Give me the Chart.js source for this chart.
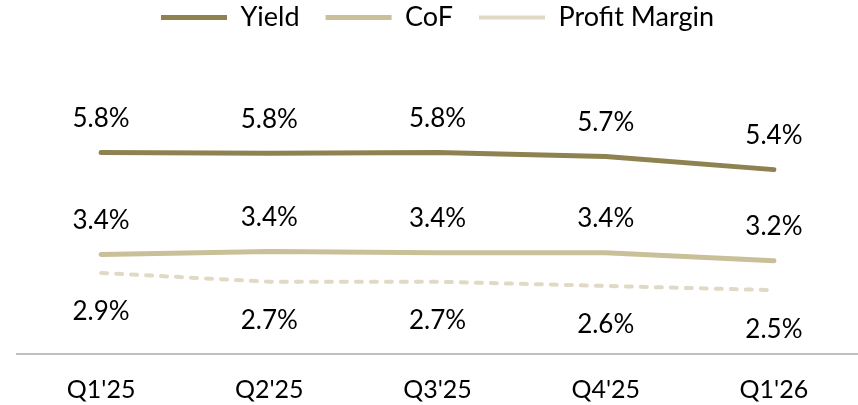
<!DOCTYPE html>
<html>
<head>
<meta charset="utf-8">
<script src="https://cdn.jsdelivr.net/npm/chart.js@4"></script>
<style>
  html, body { margin: 0; padding: 0; background: #fff; }
  #wrap { width: 858px; height: 405px; }
</style>
</head>
<body>
<div id="wrap"><canvas id="myChart"></canvas></div>
<script>
const quarters = ["Q1'25", "Q2'25", "Q3'25", "Q4'25", "Q1'26"];
const yieldVals = [5.80, 5.78, 5.80, 5.70, 5.39];
const cofVals = [3.37, 3.44, 3.41, 3.41, 3.22];
const marginVals = [2.93, 2.72, 2.72, 2.62, 2.52];

const FONT = 'Lato, "Open Sans", sans-serif';

// draws the % labels next to each point
const pointLabels = {
    id: 'pointLabels',
    afterDatasetsDraw(chart) {
        const c = chart.ctx;
        c.save();
        c.font = '26px ' + FONT;
        c.fillStyle = '#000';
        c.textAlign = 'center';
        c.textBaseline = 'middle';
        chart.data.datasets.forEach((ds, i) => {
            const meta = chart.getDatasetMeta(i);
            meta.data.forEach((pt, j) => {
                c.fillText(ds.data[j].toFixed(1) + '%', pt.x, pt.y + ds.labelOffset);
            });
        });
        c.restore();
    }
};

// make room under the legend
const legendSpace = {
    id: 'legendSpace',
    beforeInit(chart) {
        const fit = chart.legend.fit;
        chart.legend.fit = function () {
            fit.bind(chart.legend)();
            this.height = 82;
        };
    }
};

const ctx = document.getElementById('myChart');

new Chart(ctx, {
    type: 'line',
    data: {
        labels: quarters,
        datasets: [{
            label: 'Yield',
            data: yieldVals,
            borderColor: '#8e8250',
            borderWidth: 5,
            borderCapStyle: 'round',
            pointRadius: 0,
            pointStyle: 'line',
            labelOffset: -34
        }, {
            label: 'CoF',
            data: cofVals,
            borderColor: '#c9bf98',
            borderWidth: 5,
            borderCapStyle: 'round',
            pointRadius: 0,
            pointStyle: 'line',
            labelOffset: -34
        }, {
            label: 'Profit Margin',
            data: marginVals,
            borderColor: '#e0dac4',
            borderWidth: 4,
            borderDash: [6, 9],
            borderCapStyle: 'round',
            pointRadius: 0,
            pointStyle: 'line',
            labelOffset: 39
        }]
    },
    options: {
        responsive: true,
        maintainAspectRatio: false,
        animation: false,
        layout: { padding: { left: 17, right: 0, top: -22, bottom: -21 } },
        plugins: {
            legend: {
                position: 'top',
                labels: {
                    usePointStyle: true,
                    pointStyleWidth: 66,
                    boxWidth: 66,
                    boxHeight: 6,
                    padding: 26,
                    color: '#000',
                    font: { family: FONT, size: 27 }
                }
            },
            tooltip: { enabled: false }
        },
        scales: {
            x: {
                offset: true,
                grid: { display: false, drawTicks: false },
                border: { display: true, color: '#c0c0c0', width: 2 },
                ticks: {
                    color: '#000',
                    padding: 21,
                    maxRotation: 0,
                    font: { family: FONT, size: 25 }
                }
            },
            y: {
                display: false,
                min: 1,
                max: 8
            }
        }
    },
    plugins: [pointLabels, legendSpace]
});
</script>
</body>
</html>
